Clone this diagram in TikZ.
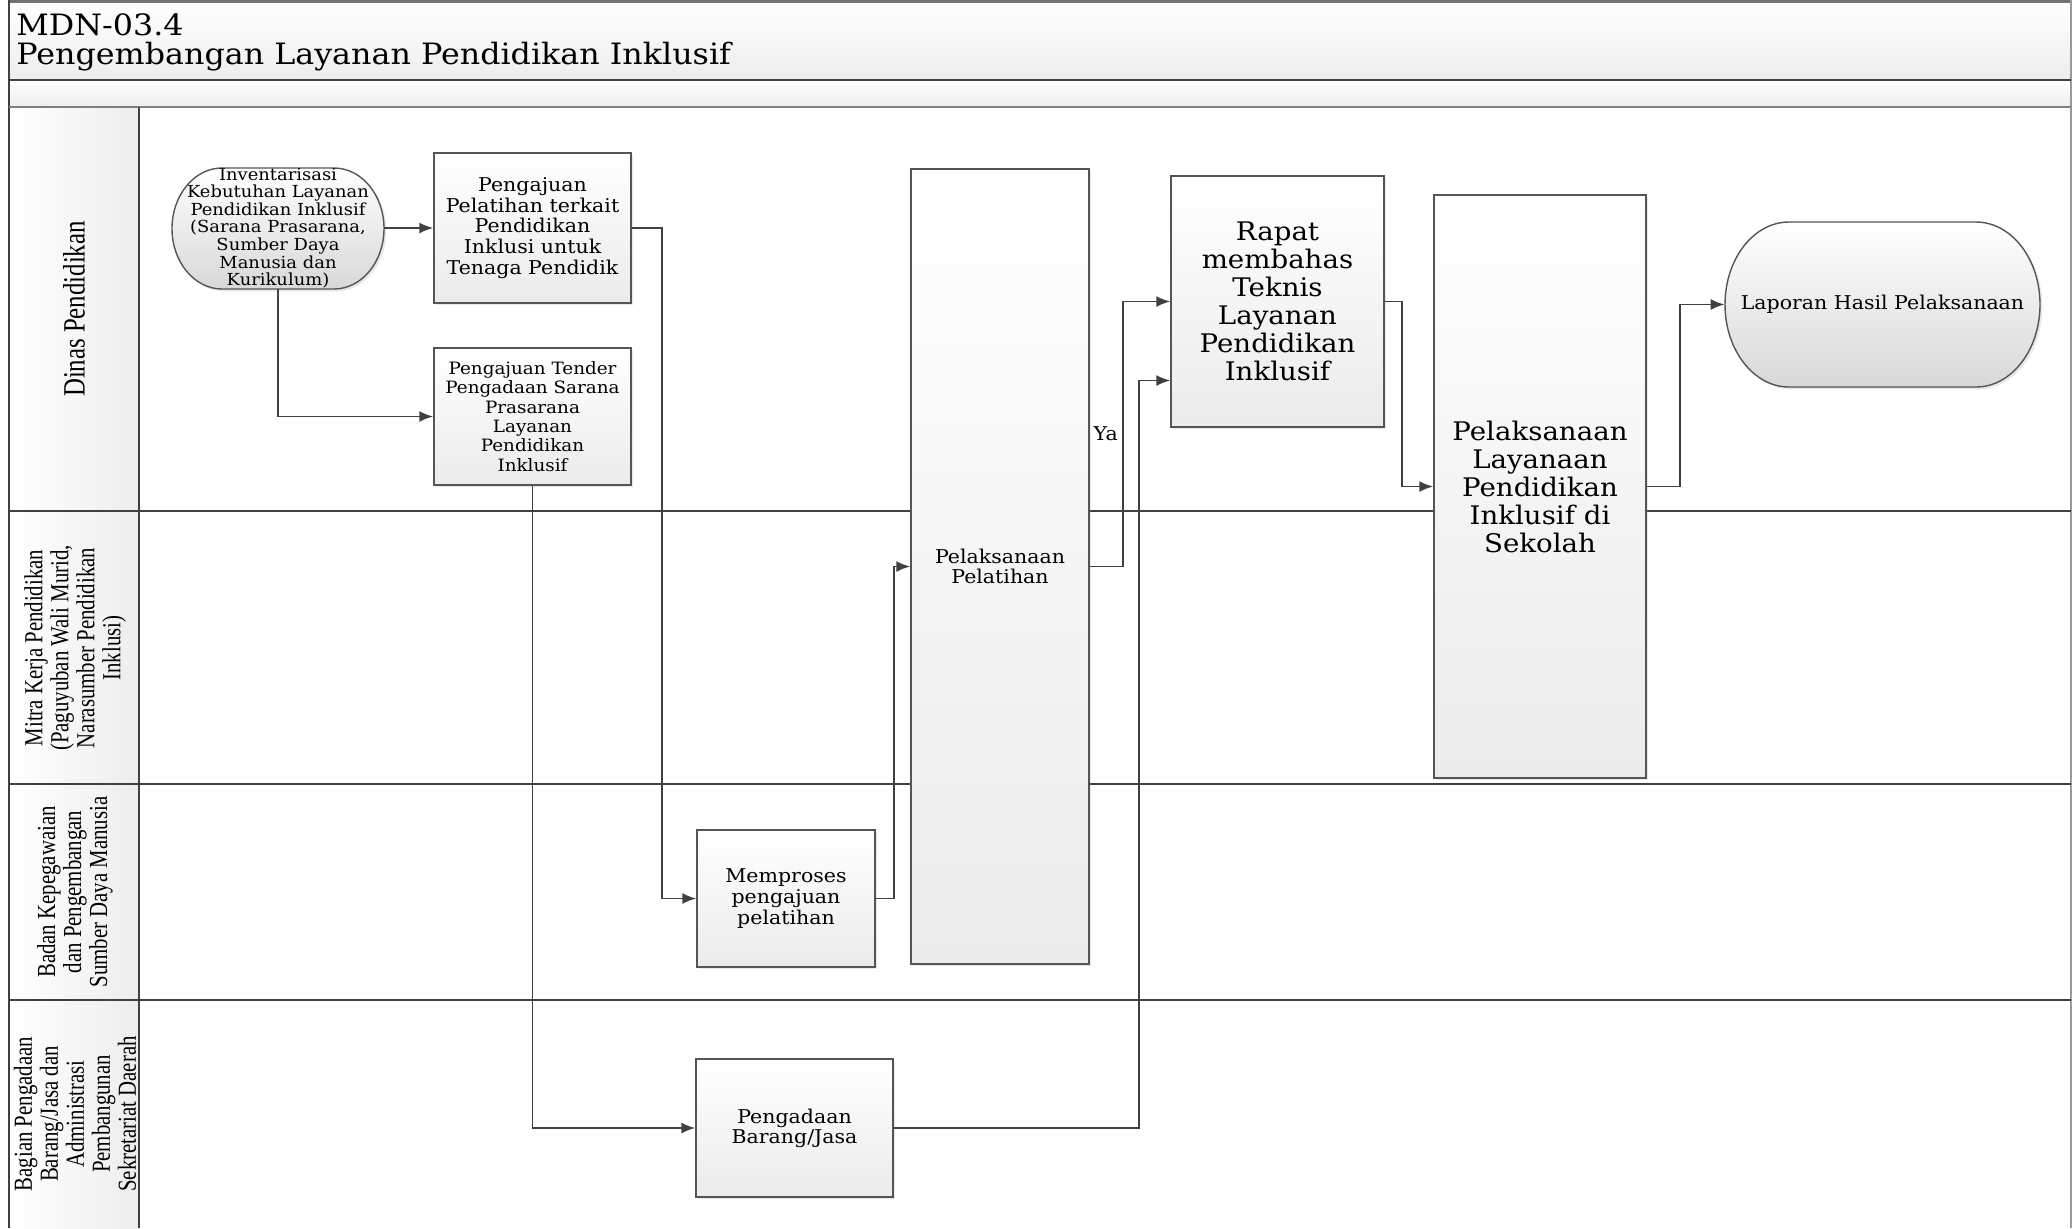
\documentclass[tikz,border=0pt]{standalone}
\usepackage{fontspec}
\setmainfont[FakeStretch=1.08]{DejaVu Serif}
\newfontfamily\lanefont[FakeStretch=0.8]{Liberation Serif}
\usetikzlibrary{calc}
\usetikzlibrary{arrows.meta}
\usetikzlibrary{shadows}
\definecolor{linegray}{HTML}{404040}
\definecolor{boxgray}{HTML}{555555}
\definecolor{fillgray}{HTML}{EBEBEB}

\begin{document}
\begin{tikzpicture}[x=0.5pt,y=-0.5pt,inner sep=0pt,
  lane/.style={draw=linegray,line width=1pt},
  proc/.style={draw=boxgray,line width=0.7pt,top color=white,bottom color=fillgray,align=center,
    drop shadow={shadow xshift=1.2pt,shadow yshift=-1.2pt,opacity=0.18}},
  term/.style={draw=boxgray,line width=0.7pt,top color=white,bottom color=fillgray!92!black,
    drop shadow={shadow xshift=1.2pt,shadow yshift=-1.2pt,opacity=0.18}},
  arr/.style={draw=linegray,line width=0.95pt,-{Latex[length=7pt,width=5.5pt]}},
  lbl/.style={rotate=90,align=center,font=\lanefont\fontsize{13}{13}\selectfont}]
\useasboundingbox (0,0) rectangle (2072,1228);
\fill[top color=white,bottom color=black!7] (9,1) rectangle (2071,80);
\fill[top color=white,bottom color=black!7] (9,80) rectangle (2071,107);
\fill[left color=white,right color=black!7] (9,107) rectangle (139,1228);
\draw[draw=black!55,line width=1.5pt] (9,1) -- (2071,1);
\draw[lane] (9,0) -- (9,1228);
\draw[draw=black!40,line width=1pt] (2071,0) -- (2071,1228);
\draw[lane] (9,80) -- (2071,80);
\draw[draw=black!50,line width=1pt] (9,107) -- (2071,107);
\draw[lane] (139,107) -- (139,1228);
\foreach \y in {511,784,1000} \draw[lane] (9,\y) -- (2071,\y);

\node[anchor=north west,align=left,font=\fontsize{14.7}{14.5}\selectfont] (title) at (16,13) {MDN-03.4\\Pengembangan Layanan Pendidikan Inklusif};

\node[lbl,font=\lanefont\fontsize{15.5}{15.5}\selectfont] (ldinas) at (74,309) {Dinas Pendidikan};
\node[lbl] (lmitra) at (75,648) {Mitra Kerja Pendidikan\\(Paguyuban Wali Murid,\\Narasumber Pendidikan\\Inklusi)};
\node[lbl] (lbadan) at (75,892) {Badan Kepegawaian\\dan Pengembangan\\Sumber Daya Manusia};
\node[lbl] (lbagian) at (75,1114) {Bagian Pengadaan\\Barang/Jasa dan\\Administrasi\\Pembangunan\\Sekretariat Daerah};

\draw[term] (222,168) -- (334,168) arc[start angle=90,end angle=-90,x radius=25pt,y radius=30.25pt] -- (222,289) arc[start angle=270,end angle=90,x radius=25pt,y radius=30.25pt] -- cycle;
\draw[term] (1789,222) -- (1976,222) arc[start angle=90,end angle=-90,x radius=32pt,y radius=41.25pt] -- (1789,387) arc[start angle=270,end angle=90,x radius=32pt,y radius=41.25pt] -- cycle;

\node[align=center,minimum width=105.5pt,minimum height=60.5pt,font=\fontsize{8.3}{8.8}\selectfont] (inv) at (278,228) {Inventarisasi\\Kebutuhan Layanan\\Pendidikan Inklusif\\(Sarana Prasarana,\\Sumber Daya\\Manusia dan\\Kurikulum)};
\node[proc,minimum width=98.5pt,minimum height=75pt,font=\fontsize{9.5}{10.4}\selectfont] (pel) at (532.5,228) {Pengajuan\\Pelatihan terkait\\Pendidikan\\Inklusi untuk\\Tenaga Pendidik};
\node[proc,minimum width=98.5pt,minimum height=68.5pt,font=\fontsize{8.5}{9.7}\selectfont] (tender) at (532.5,416.5) {Pengajuan Tender\\Pengadaan Sarana\\Prasarana\\Layanan\\Pendidikan\\Inklusif};
\node[proc,minimum width=89pt,minimum height=68.5pt,font=\fontsize{9.5}{10.4}\selectfont] (mem) at (786,898.5) {Memproses\\pengajuan\\pelatihan};
\node[proc,minimum width=98.5pt,minimum height=69pt,font=\fontsize{9.5}{10}\selectfont] (pga) at (794.5,1128) {Pengadaan\\Barang/Jasa};
\node[proc,minimum width=89pt,minimum height=397.5pt,font=\fontsize{9.5}{10.4}\selectfont] (plt) at (1000,566.5) {Pelaksanaan\\Pelatihan};
\node[proc,minimum width=106.5pt,minimum height=125.5pt,font=\fontsize{12.8}{14}\selectfont] (rapat) at (1277.5,301.5) {Rapat\\membahas\\Teknis\\Layanan\\Pendidikan\\Inklusif};
\node[proc,minimum width=106pt,minimum height=291.5pt,font=\fontsize{12.8}{14}\selectfont] (lay) at (1540,486.5) {Pelaksanaan\\Layanaan\\Pendidikan\\Inklusif di\\Sekolah};
\node[align=center,minimum width=157.5pt,minimum height=82.5pt,font=\fontsize{9.5}{10}\selectfont] (lap) at (1882.5,304.5) {Laporan Hasil Pelaksanaan};

\draw[arr] (inv.east) -- (pel.west);
\draw[arr] (inv.south) |- (tender.west);
\draw[arr] (pel.east) -- ++(30,0) |- (mem.west);
\draw[arr] (mem.east) -- ++(18,0) |- (plt.west);
\draw[arr] (plt.east) -- ++(33,0) |- (rapat.west) node[pos=0.25,left=2pt,font=\fontsize{9.5}{10}\selectfont] (ya) {Ya};
\draw[arr] (tender.south) |- (pga.west);
\draw[arr] (pga.east) -- ++(245,0) |- ($(rapat.west)+(0,79)$);
\draw[arr] (rapat.east) -- ++(17,0) |- (lay.west);
\draw[arr] (lay.east) -- ++(33,0) |- (lap.west);
\end{tikzpicture}
\end{document}
